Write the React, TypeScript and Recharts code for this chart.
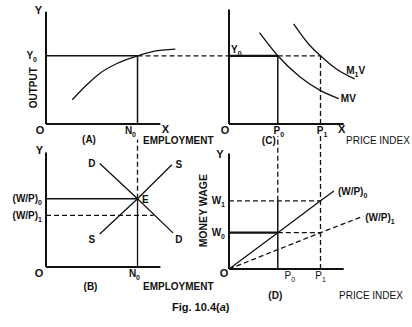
import React from 'react';
import { LineChart, Line, XAxis, YAxis, ReferenceLine, ReferenceDot } from 'recharts';

// equilibrium levels
const N0 = 8;
const Y0 = 6.2;
const WP0 = 6.2;
const WP1 = 4.7;
const P0 = 4;
const P1 = 7.5;
const W0 = 3.3;
const W1 = 6.2;

// (A) production function: output vs employment
const empA = [2.3, 3.5, 4.7, 6.2, 8, 9.4, 11.3];
const outA = [2.2, 3.5, 4.6, 5.5, 6.2, 6.6, 6.8];

// (B) labour demand (DD) and supply (SS)
const empD = [4.7, 8, 11.1];
const realD = [9.4, 6.2, 3.1];
const empS = [4.7, 8, 11.0];
const realS = [3.0, 6.2, 9.3];

// (C) MV and M1V curves
const priceMV = [2.5, 4, 5.8, 7.4, 9.0];
const outMV = [8.3, 6.2, 4.3, 3.1, 2.3];
const priceM1V = [5.3, 6.5, 7.5, 8.8, 10.3];
const outM1V = [9.1, 7.3, 6.2, 5.0, 4.1];

// (D) money wage rays
const priceWP0 = [0, 4, 7.5, 8.6];
const wageWP0 = [0, 3.3, 6.2, 7.1];
const priceWP1 = [0, 7.5, 11];
const wageWP1 = [0, 3.3, 4.8];

const W = 412;
const H = 327;
const ink = '#111';
const font = '"Liberation Sans", Arial, Helvetica, sans-serif';

const pts = (xs: number[], ys: number[]) => xs.map((x, i) => ({ x, y: ys[i] }));

type TagOpts = {
  sub?: string;
  tail?: string;
  dx?: number;
  dy?: number;
  anchor?: 'start' | 'middle' | 'end';
  size?: number;
  light?: boolean;
  rotate?: boolean;
};

const tagContent = (text: string, o: TagOpts) => (props: any) => {
  const vb = props.viewBox ?? props;
  const x = (vb.x ?? 0) + (vb.width ?? 0) / 2 + (o.dx ?? 0);
  const y = (vb.y ?? 0) + (vb.height ?? 0) / 2 + (o.dy ?? 0);
  const size = o.size ?? 10;
  return (
    <text
      x={x}
      y={y}
      textAnchor={o.anchor ?? 'middle'}
      fontFamily={font}
      fontSize={size}
      fontWeight={o.light ? 400 : 700}
      fill={ink}
      transform={o.rotate ? `rotate(-90 ${x} ${y})` : undefined}
    >
      {text}
      {o.sub && (
        <tspan dy={size * 0.3} fontSize={size * 0.7}>
          {o.sub}
        </tspan>
      )}
      {o.tail && <tspan dy={-size * 0.3}>{o.tail}</tspan>}
    </text>
  );
};

const tag = (key: string, x: number, y: number, text: string, o: TagOpts = {}) => (
  <ReferenceDot
    key={key}
    x={x}
    y={y}
    r={0}
    fill="none"
    stroke="none"
    ifOverflow="visible"
    label={tagContent(text, o)}
  />
);

const seg = (key: string, x1: number, y1: number, x2: number, y2: number, o: { dash?: boolean; w?: number } = {}) => (
  <ReferenceLine
    key={key}
    segment={[{ x: x1, y: y1 }, { x: x2, y: y2 }]}
    stroke={ink}
    strokeWidth={o.w ?? 1.3}
    strokeDasharray={o.dash ? '5 3' : undefined}
    ifOverflow="visible"
  />
);

const curve = (key: string, data: { x: number; y: number }[], type: 'monotone' | 'linear', dash = false) => (
  <Line
    key={key}
    data={data}
    dataKey="y"
    type={type}
    stroke={ink}
    strokeWidth={1.3}
    strokeDasharray={dash ? '5 3' : undefined}
    dot={false}
    activeDot={false}
    isAnimationActive={false}
  />
);

type Cfg = { left: number; bottom: number; xs: number; ys: number; xMax: number; yMax: number };

const Panel = ({ cfg, children }: { cfg: Cfg; children: React.ReactNode }) => {
  const top = cfg.bottom - cfg.yMax * cfg.ys;
  const right = W - (cfg.left + cfg.xMax * cfg.xs);
  return (
    <div style={{ position: 'absolute', left: 0, top: 0 }}>
      <LineChart width={W} height={H} margin={{ top, right, bottom: H - cfg.bottom, left: cfg.left }}>
        <XAxis type="number" dataKey="x" domain={[0, cfg.xMax]} allowDataOverflow hide />
        <YAxis type="number" dataKey="y" domain={[0, cfg.yMax]} allowDataOverflow hide />
        {children}
      </LineChart>
    </div>
  );
};

const cfgA: Cfg = { left: 46, bottom: 124, xs: 11.44, ys: 11, xMax: 16, yMax: 10.2 };
const cfgB: Cfg = { left: 46, bottom: 267, xs: 11.44, ys: 11, xMax: 16, yMax: 12 };
const cfgC: Cfg = { left: 229, bottom: 124, xs: 12.2, ys: 11, xMax: 12.5, yMax: 10.4 };
const cfgD: Cfg = { left: 229, bottom: 269, xs: 12.2, ys: 11, xMax: 12.5, yMax: 12.2 };

const App: React.FC = () => {
  return (
    <div style={{ position: 'absolute', left: 0, top: 0, width: W, height: H, background: '#fff', overflow: 'hidden' }}>
      {/* (A) output vs employment */}
      <Panel cfg={cfgA}>
        {seg('ay', 0, 0, 0, 10.2, { w: 2 })}
        {seg('ax', 0, 0, 10, 0, { w: 2 })}
        {seg('a-y0', 0, Y0, N0, Y0, { w: 1.5 })}
        {seg('a-y0d', N0, Y0, 16, Y0, { dash: true })}
        {seg('a-n0', N0, 0, N0, Y0, { w: 1.5 })}
        {curve('a-prod', pts(empA, outA), 'monotone')}
        {tag('a-Y', 0, 10.2, 'Y', { dx: -7.5, dy: 2.5, size: 11 })}
        {tag('a-Y0', 0, Y0, 'Y', { sub: '0', anchor: 'end', dx: -9, dy: 3.5 })}
        {tag('a-out', 0, 3.3, 'OUTPUT', { rotate: true, dx: -8.5 })}
        {tag('a-O', 0, 0, 'O', { dx: -6, dy: 9.5, size: 11 })}
        {tag('a-N0', N0, 0, 'N', { sub: '0', anchor: 'end', dx: -1.5, dy: 9.5 })}
        {tag('a-X', 10, 0, 'X', { dx: 5, dy: 8.5, size: 11 })}
        {tag('a-lab', 0, 0, '(A)', { dx: 43, dy: 19 })}
        {tag('a-emp', N0, 0, 'EMPLOYMENT', { anchor: 'start', dx: 5.5, dy: 20 })}
      </Panel>

      {/* (B) labour market */}
      <Panel cfg={cfgB}>
        {seg('by', 0, 0, 0, 10.4, { w: 2 })}
        {seg('bx', 0, 0, 10, 0, { w: 2 })}
        {seg('b-wp0', 0, WP0, N0, WP0, { w: 1.5 })}
        {seg('b-wp1', 0, WP1, 9.4, WP1, { dash: true })}
        {seg('b-n0', N0, 0, N0, WP0, { w: 1.3 })}
        {seg('b-n0d', N0, WP0, N0, 11.6, { dash: true })}
        {curve('b-dd', pts(empD, realD), 'linear')}
        {curve('b-ss', pts(empS, realS), 'linear')}
        {tag('b-Y', 0, 10.4, 'Y', { dx: -6.5, dy: 1, size: 11 })}
        {tag('b-wp0t', 0, WP0, '(W/P)', { sub: '0', anchor: 'end', dx: -4, dy: 3.5 })}
        {tag('b-wp1t', 0, WP1, '(W/P)', { sub: '1', anchor: 'end', dx: -4, dy: 3.5 })}
        {tag('b-D1', empD[0], realD[0], 'D', { dx: -8, dy: 3 })}
        {tag('b-S1', empS[2], realS[2], 'S', { dx: 7, dy: 3 })}
        {tag('b-S0', empS[0], realS[0], 'S', { dx: -8, dy: 9 })}
        {tag('b-D0', empD[2], realD[2], 'D', { dx: 6, dy: 10 })}
        {tag('b-E', N0, WP0, 'E', { anchor: 'start', dx: 4.5, dy: 4 })}
        {tag('b-O', 0, 0, 'O', { dx: -7, dy: 9.5, size: 11 })}
        {tag('b-N0', N0, 0, 'N', { sub: '0', anchor: 'end', dx: 2.5, dy: 10 })}
        {tag('b-lab', 0, 0, '(B)', { dx: 44.5, dy: 23 })}
        {tag('b-emp', N0, 0, 'EMPLOYMENT', { anchor: 'start', dx: 5.5, dy: 23 })}
      </Panel>

      {/* (C) quantity theory curves */}
      <Panel cfg={cfgC}>
        {seg('cy', 0, 0, 0, 10.4, { w: 2 })}
        {seg('cx', 0, 0, 9.4, 0, { w: 2 })}
        {seg('c-y0', 0, Y0, P0, Y0, { w: 2.2 })}
        {seg('c-y0d', P0, Y0, P1, Y0, { dash: true })}
        {seg('c-p0', P0, 0, P0, Y0, { w: 1.5 })}
        {seg('c-p1', P1, 0, P1, Y0, { dash: true })}
        {curve('c-mv', pts(priceMV, outMV), 'monotone')}
        {curve('c-m1v', pts(priceM1V, outM1V), 'monotone')}
        {tag('c-Y0', 0, Y0, 'Y', { sub: '0', anchor: 'start', dx: 2, dy: -2.5 })}
        {tag('c-m1vt', priceM1V[4], outM1V[4], 'M', { sub: '1', tail: 'V', anchor: 'start', dx: -8.5, dy: -5 })}
        {tag('c-mvt', priceMV[4], outMV[4], 'MV', { anchor: 'start', dx: 2, dy: 3.5 })}
        {tag('c-O', 0, 0, 'O', { dx: -4, dy: 10, size: 11 })}
        {tag('c-P0', P0, 0, 'P', { sub: '0', dx: 1, dy: 10 })}
        {tag('c-P1', P1, 0, 'P', { sub: '1', dx: 1.5, dy: 10 })}
        {tag('c-X', 9.4, 0, 'X', { dx: -2, dy: 9, size: 11 })}
        {tag('c-lab', P0, 0, '(C)', { dx: -9, dy: 20 })}
        {tag('c-pi', P1, 0, 'PRICE INDEX', { anchor: 'start', dx: 25.5, dy: 20, light: true })}
      </Panel>

      {/* (D) money wage vs price index */}
      <Panel cfg={cfgD}>
        {seg('dy', 0, 0, 0, 10.5, { w: 2 })}
        {seg('dx', 0, 0, 9.4, 0, { w: 2 })}
        {seg('d-w1', 0, W1, P1, W1, { dash: true })}
        {seg('d-w0', 0, W0, P0, W0, { w: 2.2 })}
        {seg('d-w0d', P0, W0, P1, W0, { dash: true })}
        {seg('d-p0', P0, 0, P0, W1, { w: 1.5 })}
        {seg('d-p0d', P0, W1, P0, 12.1, { dash: true })}
        {seg('d-p1', P1, 0, P1, 12.1, { dash: true })}
        {curve('d-wp0', pts(priceWP0, wageWP0), 'linear')}
        {curve('d-wp1', pts(priceWP1, wageWP1), 'linear', true)}
        {tag('d-Y', 0, 10.5, 'Y', { dx: -9, dy: 4.5, size: 11 })}
        {tag('d-mw', 0, 5.3, 'MONEY WAGE', { rotate: true, dx: -21.5, size: 10.5 })}
        {tag('d-W1', 0, W1, 'W', { sub: '1', anchor: 'end', dx: -4, dy: 3.5 })}
        {tag('d-W0', 0, W0, 'W', { sub: '0', anchor: 'end', dx: -4, dy: 3.5 })}
        {tag('d-O', 0, 0, 'O', { dx: -5, dy: 7.5, size: 11 })}
        {tag('d-P0', P0, 0, 'P', { sub: '0', dx: 12, dy: 10, light: true })}
        {tag('d-P1', P1, 0, 'P', { sub: '1', dx: 0, dy: 10, light: true })}
        {tag('d-wp0t', priceWP0[3], wageWP0[3], '(W/P)', { sub: '0', anchor: 'start', dx: 4, dy: 4 })}
        {tag('d-wp1t', priceWP1[2], wageWP1[2], '(W/P)', { sub: '1', anchor: 'start', dx: 2, dy: 5 })}
        {tag('d-lab', P0, 0, '(D)', { dx: -2.5, dy: 30 })}
        {tag('d-pi', P1, 0, 'PRICE INDEX', { anchor: 'start', dx: 18.5, dy: 30, light: true })}
      </Panel>

      <div
        style={{
          position: 'absolute',
          left: 172,
          top: 301,
          fontFamily: font,
          fontSize: 11,
          fontWeight: 700,
          color: ink,
          whiteSpace: 'nowrap',
        }}
      >
        Fig. 10.4(<i>a</i>)
      </div>
    </div>
  );
};

export default App;
